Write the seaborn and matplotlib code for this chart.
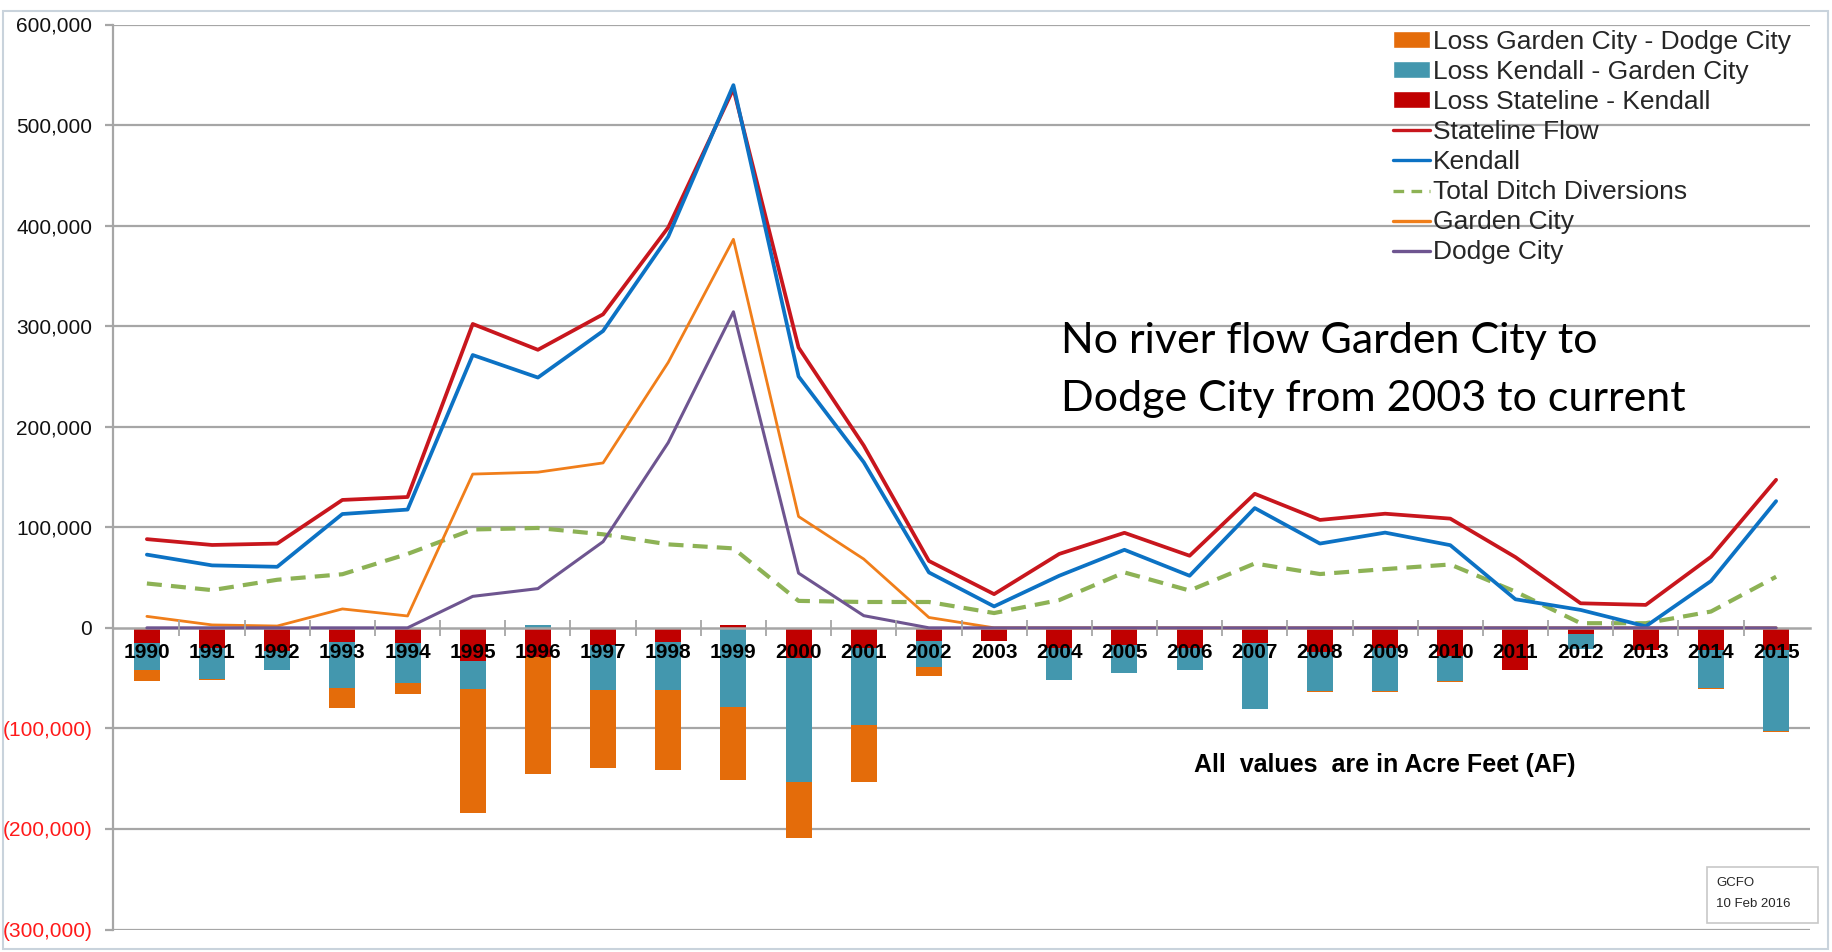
import numpy as np
import pandas as pd
import matplotlib
matplotlib.use("Agg")
import matplotlib.pyplot as plt
import seaborn as sns
from matplotlib.patches import Rectangle, Patch
from matplotlib.lines import Line2D
from matplotlib.ticker import FixedLocator

# ---------------- data (acre feet) ----------------
years = list(range(1990, 2016))

stateline = [88200, 82400, 83800, 127200, 130100, 302200, 276500, 311800, 398200, 536000,
             278700, 181300, 66500, 33500, 73500, 94500, 71700, 133300, 107300, 113500,
             108600, 70300, 24400, 22800, 70600, 147200]
kendall = [72800, 62100, 60700, 113200, 117600, 271300, 248900, 295200, 389000, 539700,
           250000, 164700, 55100, 21300, 51800, 77600, 51800, 119100, 83800, 94700,
           82200, 28400, 17800, 1500, 46500, 126000]
ditch = [44100, 37500, 47800, 53300, 73500, 97800, 99300, 93000, 83000, 79000,
         26800, 25700, 25700, 14700, 27600, 55100, 37100, 64000, 53500, 58400,
         63000, 36000, 4600, 4600, 16200, 50800]
garden_city = [11400, 2900, 1800, 18800, 11800, 152900, 154800, 164000, 264000, 386400,
               110700, 68400, 10300, 0, 0, 0, 0, 0, 0, 0,
               0, 0, 0, 0, 0, 0]
dodge_city = [0, 0, 0, 0, 0, 31300, 39000, 85700, 184200, 314300,
              54400, 12100, 0, 0, 0, 0, 0, 0, 0, 0,
              0, 0, 0, 0, 0, 0]

loss_stateline_kendall = [-15000, -20000, -23000, -14500, -15500, -33000, -29000, -16600, -14000, 2500,
                          -29800, -20000, -13000, -13000, -20000, -17000, -20000, -15000, -24000, -20000,
                          -28000, -42000, -6600, -22000, -22000, -22000]
loss_kendall_garden = [-27000, -31000, -19000, -45000, -39000, -28000, 2500, -45400, -48000, -79000,
                       -123500, -76400, -26400, 0, -31700, -28000, -22400, -65500, -39000, -43000,
                       -25000, 0, -14000, 0, -38000, -81000]
loss_garden_dodge = [-10600, -700, 0, -20000, -11000, -123000, -116000, -77000, -79000, -72700,
                     -55300, -57000, -8600, 0, 0, 0, 0, -600, -600, -600,
                     -1000, 0, 0, -500, -700, -600]

ytick_values = [-300000, -200000, -100000, 0, 100000, 200000, 300000, 400000, 500000, 600000]

# ---------------- style ----------------
sns.set_theme(style="white")
plt.rcParams["font.family"] = ["Liberation Sans", "DejaVu Sans"]
NARROW = ["Liberation Sans Narrow", "Liberation Sans", "DejaVu Sans"]

C_RED = "#C00000"
C_TEAL = "#4397AE"
C_ORANGE_BAR = "#E46C0A"
C_STATE = "#C8161D"
C_KEND = "#0C72C4"
C_DITCH = "#8DB255"
C_GC = "#F07E1A"
C_DC = "#6E5590"
C_GRID = "#A6A6A6"

fig = plt.figure(figsize=(18.33, 9.52), dpi=100)
W, H = 1833, 952
left, right, top, bottom = 113, 1810, 24.5, 929.5
ax = fig.add_axes([left / W, 1 - bottom / H, (right - left) / W, (bottom - top) / H])
ax.set_facecolor("white")

# grid lines (behind everything)
for v in ytick_values:
    if v != 0:
        ax.axhline(v, color=C_GRID, lw=1.6, zorder=0.5)

# stacked bars (positive and negative stacked separately, like Excel)
x = np.array(years, dtype=float)
pos_b = np.zeros(len(years))
neg_b = np.zeros(len(years))
for vals, col in [(loss_stateline_kendall, C_RED), (loss_kendall_garden, C_TEAL),
                  (loss_garden_dodge, C_ORANGE_BAR)]:
    v = np.array(vals, dtype=float)
    b = np.where(v >= 0, pos_b, neg_b)
    ax.bar(x, v, width=0.4, bottom=b, color=col, edgecolor="none", zorder=1)
    pos_b = pos_b + np.where(v >= 0, v, 0)
    neg_b = neg_b + np.where(v < 0, v, 0)

# lines via seaborn
df = pd.DataFrame({"year": years, "Stateline Flow": stateline, "Kendall": kendall,
                   "Total Ditch Diversions": ditch, "Garden City": garden_city,
                   "Dodge City": dodge_city})
sns.lineplot(data=df, x="year", y="Total Ditch Diversions", ax=ax, color=C_DITCH, lw=3.0,
             zorder=3).lines[-1].set_dashes((3.6, 2.2))
sns.lineplot(data=df, x="year", y="Garden City", ax=ax, color=C_GC, lw=2.0, zorder=3)
sns.lineplot(data=df, x="year", y="Kendall", ax=ax, color=C_KEND, lw=2.7, zorder=3.2)
sns.lineplot(data=df, x="year", y="Stateline Flow", ax=ax, color=C_STATE, lw=2.7, zorder=3.1)
sns.lineplot(data=df, x="year", y="Dodge City", ax=ax, color=C_DC, lw=2.2, zorder=3.3)

ax.set_xlim(1989.48, 2015.52)
ax.set_ylim(-300000, 600000)
ax.set_xlabel("")
ax.set_ylabel("")

# axes / spines
for s in ["top", "right"]:
    ax.spines[s].set_visible(False)
ax.spines["left"].set_color(C_GRID)
ax.spines["left"].set_linewidth(1.6)
ax.spines["bottom"].set_position(("data", 0))
ax.spines["bottom"].set_color(C_GRID)
ax.spines["bottom"].set_linewidth(1.8)
ax.spines["bottom"].set_zorder(2)

# y ticks
def fmt(v):
    if v < 0:
        return "({:,})".format(-v)
    return "{:,}".format(v)
ax.set_yticks(ytick_values)
ax.set_yticklabels([fmt(v) for v in ytick_values])
for lab, v in zip(ax.get_yticklabels(), ytick_values):
    lab.set_color("#FF1A1A" if v < 0 else "#111111")
    lab.set_fontfamily(NARROW)
    lab.set_fontsize(15)
ax.tick_params(axis="y", which="major", left=True, length=6, width=1.6, color=C_GRID, pad=9)

# x ticks: labels at years, cross ticks between years
ax.set_xticks(years)
ax.set_xticklabels([str(y) for y in years])
ax.xaxis.set_minor_locator(FixedLocator([y + 0.5 for y in years[:-1]]))
ax.tick_params(axis="x", which="major", length=0, pad=11, labelsize=15)
ax.tick_params(axis="x", which="minor", bottom=True, direction="inout", length=11, width=1.3,
               color=C_GRID)
for lab in ax.get_xticklabels():
    lab.set_fontfamily(NARROW)
    lab.set_fontweight("bold")
    lab.set_color("black")
ax.xaxis.set_zorder(5)

# legend
handles = [
    Patch(facecolor=C_ORANGE_BAR, label="Loss Garden City - Dodge City"),
    Patch(facecolor=C_TEAL, label="Loss Kendall - Garden City"),
    Patch(facecolor=C_RED, label="Loss Stateline - Kendall"),
    Line2D([], [], color=C_STATE, lw=2.4, label="Stateline Flow"),
    Line2D([], [], color=C_KEND, lw=2.4, label="Kendall"),
    Line2D([], [], color=C_DITCH, lw=2.4, dashes=(3.2, 2.2), label="Total Ditch Diversions"),
    Line2D([], [], color=C_GC, lw=2.4, label="Garden City"),
    Line2D([], [], color=C_DC, lw=2.4, label="Dodge City"),
]
leg = fig.legend(handles=handles, loc="upper left", bbox_to_anchor=(1393 / W, 1 - 30 / H),
                 frameon=False, fontsize=19, handlelength=1.4, handleheight=0.6,
                 handletextpad=0.1, labelspacing=0.23, borderaxespad=0, borderpad=0)

# annotations
fig.text(1061 / W, 1 - 341 / H, "No river flow Garden City to", fontsize=31,
         family=["Lato", "DejaVu Sans"], va="center", ha="left", color="black")
fig.text(1061 / W, 1 - 399 / H, "Dodge City from 2003 to current", fontsize=31,
         family=["Lato", "DejaVu Sans"], va="center", ha="left", color="black")
fig.text(1385 / W, 1 - 765 / H, "All  values  are in Acre Feet (AF)", fontsize=18,
         family=NARROW, fontweight="bold", va="center", ha="center", color="black")

# GCFO box
fig.patches.append(Rectangle((1707 / W, 1 - 923 / H), 111 / W, 56 / H, transform=fig.transFigure,
                             facecolor="white", edgecolor="#C8C8C8", lw=1.2, zorder=10))
fig.text(1716 / W, 1 - 883 / H, "GCFO", fontsize=9.5, family=NARROW, va="center", zorder=11)
fig.text(1716 / W, 1 - 904 / H, "10 Feb 2016", fontsize=9.5, family=NARROW, va="center", zorder=11)

# chart-area border
fig.patches.append(Rectangle((3 / W, 3 / H), 1 - 8 / W, 1 - 14 / H, transform=fig.transFigure,
                             facecolor="none", edgecolor="#C9D3DC", lw=1.5, zorder=0))

fig.savefig("out.png", dpi=100, facecolor="white")
